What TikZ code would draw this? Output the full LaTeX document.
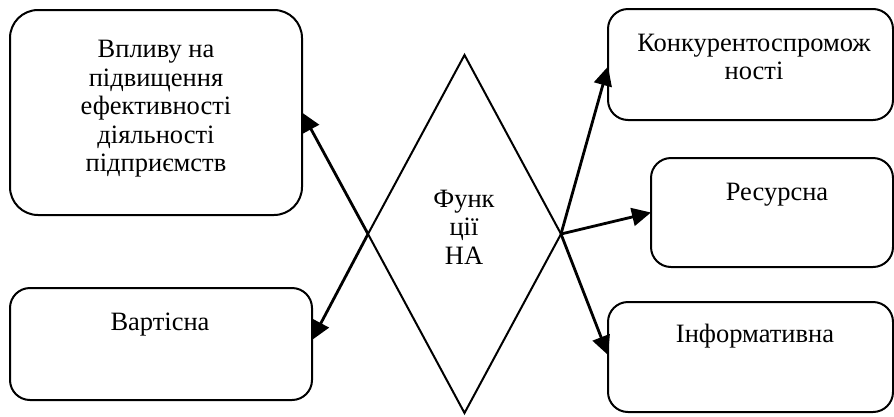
\documentclass[tikz,border=0pt]{standalone}
\usepackage{fontspec}
\setmainfont{Liberation Serif}
\usetikzlibrary{shapes.geometric,arrows.meta,calc}
\begin{document}
\begin{tikzpicture}[x=1pt,y=-1pt,
  box/.style={draw,line width=2pt,rounded corners=20pt,inner sep=0pt,outer sep=0pt},
  txt/.style={font=\fontsize{26.5}{28.5}\selectfont,align=center,inner sep=0pt},
  arr/.style={line width=2.8pt,-{Triangle[length=19pt,width=18pt]}}]
\useasboundingbox (0,0) rectangle (894,416);
% boxes
\node[box,rounded corners=28pt,minimum width=292pt,minimum height=205pt] (b1) at (156,112.5) {};
\node[box,minimum width=302pt,minimum height=112pt] (b2) at (161,344) {};
\node[box,minimum width=285pt,minimum height=111pt] (b3) at (750.5,64.5) {};
\node[box,minimum width=242pt,minimum height=109pt] (b4) at (772,212.5) {};
\node[box,minimum width=285pt,minimum height=110pt] (b5) at (750.5,357) {};
% diamond
\node[draw,diamond,line width=2pt,minimum width=193pt,minimum height=358pt,inner sep=0pt,outer sep=0pt] (d) at (464.5,234) {};
% texts
\node[txt] (t1) at (156,109) {Впливу на\\підвищення\\ефективності\\діяльності\\підприємств};
\node[txt,anchor=base] (t2) at (160,330) {Вартісна};
\node[txt] (t3) at (754,57) {Конкурентоспромож\\ності};
\node[txt,anchor=base] (t4) at (777,200) {Ресурсна};
\node[txt,anchor=base] (t5) at (755,342) {Інформативна};
\node[txt] (td) at (464,227) {Функ\\ції\\НА};
% arrows
\draw[arr] (d.west) -- (b1.east);
\draw[arr] (d.west) -- ($(b2.east)+(0,-4)$);
\draw[arr] (d.east) -- ($(b3.west)+(0,2)$);
\draw[arr] (d.east) -- (b4.west);
\draw[arr] (d.east) -- ($(b5.west)+(0,-2)$);
\end{tikzpicture}
\end{document}
